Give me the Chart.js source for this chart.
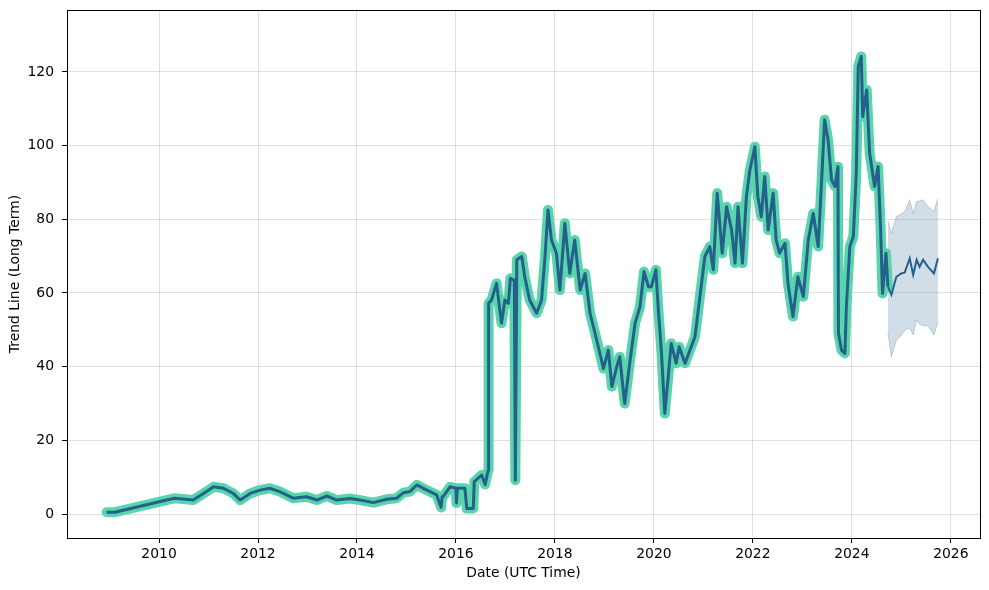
<!DOCTYPE html>
<html>
<head>
<meta charset="utf-8">
<script src="https://cdn.jsdelivr.net/npm/chart.js@4"></script>
<style>
  html, body { margin: 0; padding: 0; background: #fff; }
  #wrap { width: 989px; height: 590px; }
</style>
</head>
<body>
<div id="wrap"><canvas id="trend-chart"></canvas></div>
<script>
// historical trend (decimal year, value)
const histYears = [2008.94, 2009.11, 2010.15, 2010.32, 2010.69, 2010.96, 2011.10, 2011.30, 2011.50, 2011.64,
  2011.84, 2012.04, 2012.24, 2012.44, 2012.71, 2012.98, 2013.19, 2013.39, 2013.59, 2013.86,
  2014.06, 2014.33, 2014.60, 2014.80, 2014.94, 2015.07, 2015.21, 2015.41, 2015.61, 2015.70,
  2015.72, 2015.74, 2015.88, 2016.00, 2016.01, 2016.03, 2016.18, 2016.22, 2016.35, 2016.37,
  2016.52, 2016.59, 2016.65,
  2016.66, 2016.72, 2016.82, 2016.92, 2016.99, 2017.06, 2017.10, 2017.16, 2017.18, 2017.20,
  2017.23, 2017.33, 2017.39, 2017.49, 2017.63, 2017.73, 2017.80, 2017.86, 2017.93, 2018.03,
  2018.10, 2018.20, 2018.30, 2018.40, 2018.51, 2018.61, 2018.71, 2018.84, 2018.98, 2019.08,
  2019.15, 2019.25, 2019.31, 2019.41, 2019.52, 2019.62, 2019.72, 2019.80, 2019.89, 2019.95,
  2020.04, 2020.09, 2020.15, 2020.22, 2020.29, 2020.35, 2020.45, 2020.51, 2020.63, 2020.73,
  2020.83, 2020.93, 2021.03, 2021.13, 2021.20, 2021.28, 2021.38, 2021.47, 2021.57, 2021.64,
  2021.70, 2021.79, 2021.87, 2021.94, 2022.04, 2022.10, 2022.17, 2022.24, 2022.31, 2022.41,
  2022.47, 2022.54, 2022.65, 2022.71, 2022.81, 2022.91, 2023.02, 2023.12, 2023.22, 2023.32,
  2023.39, 2023.45, 2023.52, 2023.59, 2023.66, 2023.72, 2023.73, 2023.79, 2023.86, 2023.89,
  2023.96, 2024.03, 2024.09, 2024.13, 2024.19, 2024.22, 2024.30, 2024.36, 2024.46, 2024.53,
  2024.58, 2024.62, 2024.69, 2024.73];
const histValues = [0.5, 0.5, 3.8, 4.3, 3.8, 6.1, 7.4, 7.0, 5.6, 3.8,
  5.6, 6.5, 7.0, 6.1, 4.3, 4.7, 3.8, 4.9, 3.8, 4.2,
  3.8, 3.1, 4.0, 4.3, 5.8, 6.1, 7.9, 6.5, 5.2, 1.8,
  4.7, 4.7, 7.4, 7.0, 3.0, 7.0, 7.0, 1.5, 1.5, 8.8,
  10.6, 8.0, 11.9,
  57.2, 58.1, 62.6, 51.8, 58.1, 57.2, 64.0, 63.5, 63.5, 9.2,
  69.0, 69.9, 64.4, 58.1, 54.5, 58.1, 69.9, 82.5, 74.4, 70.8,
  60.8, 78.9, 65.3, 74.4, 60.8, 65.3, 54.5, 47.5, 39.5, 44.5,
  34.6, 40.0, 42.7, 30.0, 41.8, 51.8, 56.3, 65.8, 61.7, 61.7,
  66.3, 55.4, 44.5, 27.3, 37.3, 46.3, 40.9, 45.4, 40.9, 44.5,
  48.1, 59.0, 69.9, 72.6, 66.3, 87.1, 70.8, 83.4, 77.1, 68.1,
  83.4, 68.1, 86.2, 93.4, 99.7, 86.2, 80.7, 91.6, 77.1, 87.1,
  74.4, 70.8, 73.5, 62.6, 53.6, 64.4, 59.0, 74.4, 81.6, 72.6,
  90.7, 107.0, 101.5, 90.7, 88.9, 94.3, 49.1, 44.5, 43.6, 56.3,
  72.6, 75.3, 92.5, 121.5, 124.2, 107.9, 115.1, 97.9, 88.9, 94.3,
  78.0, 59.9, 70.8, 61.7];

// forecast and its confidence band
const fcYears = [2024.73, 2024.80, 2024.90, 2025.00, 2025.07, 2025.17, 2025.24, 2025.31, 2025.37, 2025.44, 2025.54, 2025.66, 2025.74];
const fcValues = [61.7, 59.5, 64.4, 65.3, 65.6, 69.4, 64.9, 69.0, 67.1, 69.0, 67.1, 65.3, 69.4];
const fcUpper = [79.4, 76.2, 80.7, 81.5, 82.1, 85.3, 81.6, 84.8, 85.0, 85.3, 83.4, 82.1, 85.7];
const fcLower = [49.1, 42.7, 47.2, 48.5, 50.0, 50.5, 48.6, 52.7, 51.5, 51.1, 51.1, 48.6, 52.2];

const yTicks = [0, 20, 40, 60, 80, 100, 120];
const xTicks = [2010, 2012, 2014, 2016, 2018, 2020, 2022, 2024, 2026];

const pts = (xs, ys) => xs.map((x, i) => ({ x: x, y: ys[i] }));

const frame = {
  id: 'frame',
  afterDraw(chart) {
    const a = chart.chartArea, c = chart.ctx;
    c.save();
    c.strokeStyle = '#000';
    c.lineWidth = 1;
    c.strokeRect(Math.round(a.left) + 0.5, Math.round(a.top) + 0.5, Math.round(a.right - a.left), Math.round(a.bottom - a.top));
    c.restore();
  }
};

const font = { family: 'DejaVu Sans', size: 13.9 };

new Chart(document.getElementById('trend-chart'), {
  type: 'line',
  data: {
    datasets: [{
        label: 'Trend',
        data: pts(histYears, histValues),
        borderColor: '#23618a',
        borderWidth: 3,
        borderJoinStyle: 'round',
        pointRadius: 0,
        fill: false,
        order: 0
      }, {
        label: 'Forecast',
        data: pts(fcYears, fcValues),
        borderColor: '#23618a',
        borderWidth: 2,
        pointRadius: 0,
        fill: false,
        order: 0
      }, {
        label: 'History',
        data: pts(histYears, histValues),
        borderColor: '#5ad4ad',
        borderWidth: 10,
        borderJoinStyle: 'round',
        borderCapStyle: 'round',
        pointRadius: 0,
        fill: false,
        order: 1
      }, {
        label: 'Upper',
        data: pts(fcYears, fcUpper),
        borderColor: 'rgba(70,120,160,0.3)',
        borderWidth: 1,
        backgroundColor: 'rgba(70,120,160,0.25)',
        pointRadius: 0,
        fill: '+1',
        order: 2
      }, {
        label: 'Lower',
        data: pts(fcYears, fcLower),
        borderColor: 'rgba(70,120,160,0.3)',
        borderWidth: 1,
        pointRadius: 0,
        fill: false,
        order: 2
      }
    ]
  },
  options: {
    responsive: true,
    maintainAspectRatio: false,
    animation: false,
    layout: { padding: { top: 10, right: 9, left: 0, bottom: 0 } },
    plugins: { legend: { display: false }, tooltip: { enabled: false } },
    scales: {
      x: {
        type: 'linear',
        min: 2008.14,
        max: 2026.59,
        afterBuildTicks: s => { s.ticks = xTicks.map(v => ({ value: v })); },
        afterFit: s => { s.height = 52; s.paddingLeft = 0; s.paddingRight = 0; },
        grid: { color: 'rgba(0,0,0,0.12)', tickColor: '#000', tickLength: 5 },
        border: { color: '#000' },
        ticks: { color: '#000', font: font, padding: 3, maxRotation: 0, callback: v => String(v) },
        title: { display: true, text: 'Date (UTC Time)', color: '#000', font: font, padding: { top: 2, bottom: 8 } }
      },
      y: {
        min: -6.5,
        max: 136.8,
        afterBuildTicks: s => { s.ticks = yTicks.map(v => ({ value: v })); },
        afterFit: s => { s.width = 67; s.paddingTop = 0; s.paddingBottom = 0; },
        grid: { color: 'rgba(0,0,0,0.12)', tickColor: '#000', tickLength: 5 },
        border: { color: '#000' },
        ticks: { color: '#000', font: font, padding: 8 },
        title: { display: true, text: 'Trend Line (Long Term)', color: '#000', font: font, padding: { top: 7.5, bottom: 0 } }
      }
    }
  },
  plugins: [frame]
});
</script>
</body>
</html>
